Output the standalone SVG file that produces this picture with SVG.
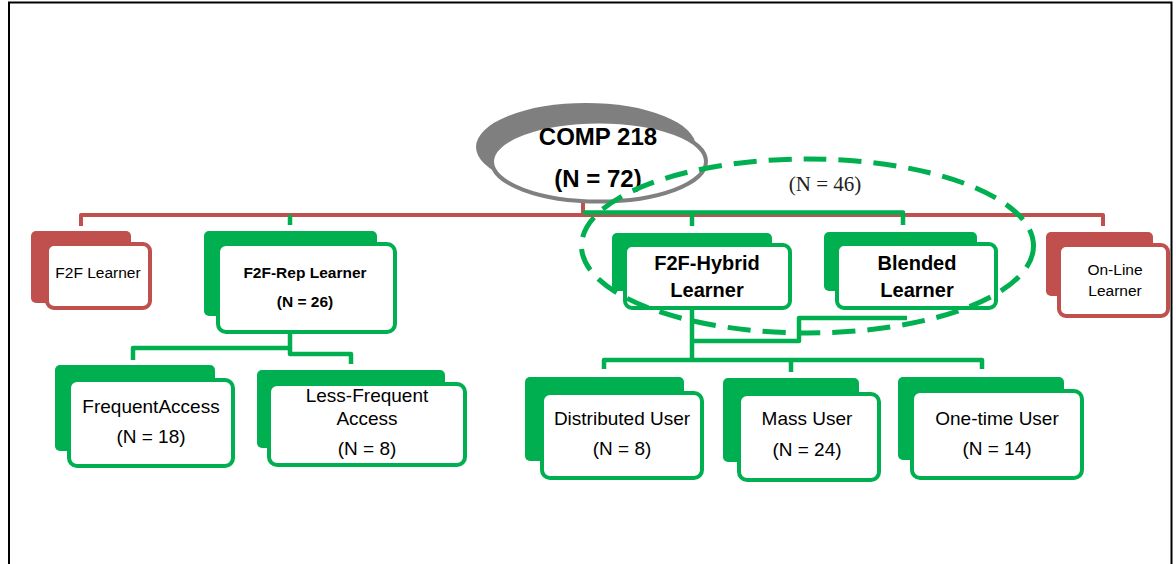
<svg xmlns="http://www.w3.org/2000/svg" width="1176" height="564" viewBox="0 0 1176 564">
  <style>
    .frame { fill: none; stroke: #000; stroke-width: 2; }
    .red-back { fill: #C0504D; }
    .red-front { fill: #fff; stroke: #C0504D; stroke-width: 4; }
    .grn-back { fill: #00B050; }
    .grn-front { fill: #fff; stroke: #00B050; stroke-width: 4; }
    .red-line { fill: none; stroke: #C0504D; stroke-width: 4; stroke-linejoin: round; }
    .grn-line { fill: none; stroke: #00B050; stroke-width: 4.5; stroke-linejoin: round; }
    .t { font-family: "Liberation Sans", Arial, sans-serif; fill: #000; text-anchor: middle; }
    .sm { font-size: 15.5px; }
    .md { font-size: 19px; }
    .b { font-weight: bold; }
  </style>

  <!-- page frame -->
  <rect class="frame" x="9" y="2.5" width="1162.5" height="580"/>

  <!-- connectors -->
  <g id="connectors">
    <path class="red-line" d="M81,226 V215 H1103 V226"/>
    <path class="red-line" d="M583,203 V215"/>
    <path class="grn-line" d="M583,212.5 H903 V225"/>
    <path class="grn-line" d="M692,212.5 V226"/>
    <path class="grn-line" d="M290,215 V225"/>
    <path class="grn-line" d="M290,334 V348 H133 V360"/>
    <path class="grn-line" d="M290,348 V354 H351 V364"/>
    <path class="grn-line" d="M692,310 V360"/>
    <path class="grn-line" d="M692,341 H799 V318 H907"/>
    <path class="grn-line" d="M604,369 V360 H982 V369"/>
    <path class="grn-line" d="M791,360 V372"/>
  </g>

  <!-- root -->
  <g id="root">
    <ellipse cx="586" cy="147" rx="110" ry="44" fill="#7F7F7F"/>
    <ellipse cx="599" cy="161.5" rx="107" ry="40" fill="#fff" stroke="#808080" stroke-width="4"/>
    <text class="t b" x="598" y="145" font-size="24">COMP 218</text>
    <text class="t b" x="598" y="187" font-size="24">(N = 72)</text>
  </g>

  <!-- second level -->
  <g id="f2f-learner">
    <rect class="red-back" x="31" y="231" width="100" height="72" rx="5"/>
    <rect class="red-front" x="47" y="244" width="103" height="64" rx="7"/>
    <text class="t sm" x="98" y="278">F2F Learner</text>
  </g>

  <g id="f2f-rep">
    <rect class="grn-back" x="204" y="231" width="173" height="85" rx="5"/>
    <rect class="grn-front" x="218" y="244" width="177" height="88" rx="8"/>
    <text class="t sm b" x="305" y="278">F2F-Rep Learner</text>
    <text class="t sm b" x="305" y="307">(N = 26)</text>
  </g>

  <g id="f2f-hybrid">
    <rect class="grn-back" x="612" y="233" width="160" height="58" rx="5"/>
    <rect class="grn-front" x="625" y="245" width="165" height="63" rx="7"/>
    <text class="t b" x="707" y="270" font-size="20">F2F-Hybrid</text>
    <text class="t b" x="707" y="297" font-size="20">Learner</text>
  </g>

  <g id="blended">
    <rect class="grn-back" x="824" y="232" width="153" height="59" rx="5"/>
    <rect class="grn-front" x="837" y="244" width="159" height="64" rx="7"/>
    <text class="t b" x="917" y="270" font-size="20">Blended</text>
    <text class="t b" x="917" y="297" font-size="20">Learner</text>
  </g>

  <g id="online">
    <rect class="red-back" x="1046" y="232" width="107" height="64" rx="5"/>
    <rect class="red-front" x="1059" y="245" width="109" height="71" rx="7"/>
    <text class="t sm" x="1115" y="275">On-Line</text>
    <text class="t sm" x="1115" y="296">Learner</text>
  </g>

  <!-- third level -->
  <g id="frequent">
    <rect class="grn-back" x="55" y="365" width="160" height="86" rx="5"/>
    <rect class="grn-front" x="69" y="380" width="164" height="86" rx="8"/>
    <text class="t md" x="151" y="413">FrequentAccess</text>
    <text class="t md" x="151" y="443">(N = 18)</text>
  </g>

  <g id="less-frequent">
    <rect class="grn-back" x="257" y="370" width="188" height="78" rx="5"/>
    <rect class="grn-front" x="269" y="384" width="196" height="81" rx="8"/>
    <text class="t md" x="367" y="402">Less-Frequent</text>
    <text class="t md" x="367" y="425">Access</text>
    <text class="t md" x="367" y="455">(N = 8)</text>
  </g>

  <g id="distributed">
    <rect class="grn-back" x="525" y="377" width="159" height="84" rx="5"/>
    <rect class="grn-front" x="542" y="393" width="160" height="85" rx="8"/>
    <text class="t md" x="622" y="425">Distributed User</text>
    <text class="t md" x="622" y="455">(N = 8)</text>
  </g>

  <g id="mass">
    <rect class="grn-back" x="723" y="378" width="136" height="84" rx="5"/>
    <rect class="grn-front" x="739" y="394" width="140" height="86" rx="8"/>
    <text class="t md" x="807" y="425">Mass User</text>
    <text class="t md" x="807" y="456">(N = 24)</text>
  </g>

  <g id="one-time">
    <rect class="grn-back" x="898" y="377" width="166" height="83" rx="5"/>
    <rect class="grn-front" x="912" y="391" width="170" height="87" rx="8"/>
    <text class="t md" x="997" y="425">One-time User</text>
    <text class="t md" x="997" y="455">(N = 14)</text>
  </g>

  <!-- dashed grouping around the hybrid and blended learners -->
  <g id="group-46">
    <ellipse cx="807.5" cy="246" rx="226" ry="87" fill="none" stroke="#00B050" stroke-width="5" stroke-dasharray="23 12"/>
    <text x="825" y="191" font-family="'Liberation Serif', 'Times New Roman', serif" font-size="21" fill="#222" text-anchor="middle">(N = 46)</text>
  </g>
</svg>
